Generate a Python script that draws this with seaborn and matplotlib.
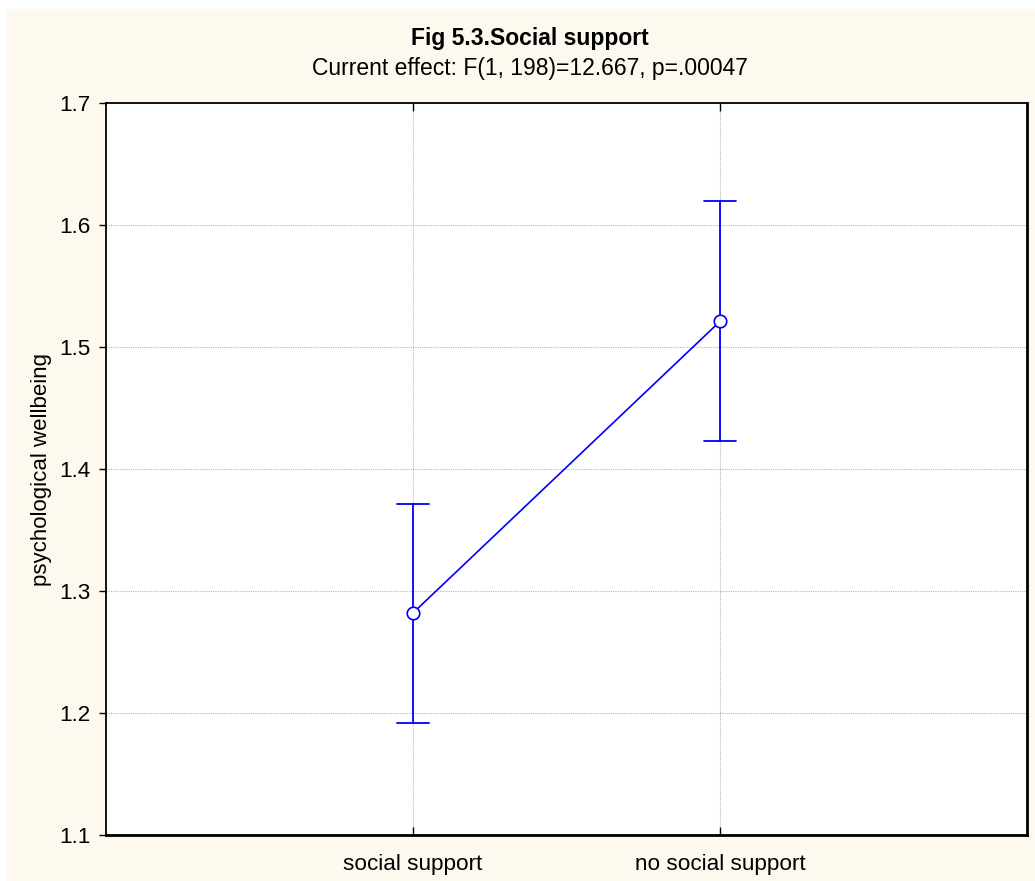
import matplotlib
matplotlib.use("Agg")
import matplotlib.pyplot as plt
import seaborn as sns
import pandas as pd
from matplotlib.patches import Rectangle

categories = ["social support", "no social support"]
means = [1.282, 1.521]
ci_low = [1.192, 1.423]
ci_high = [1.371, 1.620]
y_ticks = [1.1, 1.2, 1.3, 1.4, 1.5, 1.6, 1.7]

title = "Fig 5.3.Social support"
subtitle = "Current effect: F(1, 198)=12.667, p=.00047"
ylabel = "psychological wellbeing"

sns.set_theme(style="white")
plt.rcParams["font.family"] = ["Liberation Sans", "DejaVu Sans"]
plt.rcParams["text.color"] = "black"
plt.rcParams["axes.labelcolor"] = "black"
plt.rcParams["xtick.color"] = "black"
plt.rcParams["ytick.color"] = "black"

rows = []
for c, lo, m, hi in zip(categories, ci_low, means, ci_high):
    for v in (lo, m, hi):
        rows.append({"group": c, "value": v})
df = pd.DataFrame(rows)

fig = plt.figure(figsize=(10.35, 8.81), dpi=100, facecolor="white")
fig.patches.append(Rectangle((7 / 1035, 0), 1 - 7 / 1035, 1 - 9 / 881,
                             transform=fig.transFigure, facecolor="#FEF9EF",
                             edgecolor="none", zorder=-10))
ax = fig.add_axes([106 / 1035, 1 - 835 / 881, (1027 - 106) / 1035, (835 - 103) / 881])
ax.set_zorder(1)
ax.set_facecolor("white")

sns.pointplot(data=df, x="group", y="value", order=categories,
              estimator="median", errorbar=lambda v: (v.min(), v.max()),
              color="#0000FF", markers="o", capsize=0.105,
              markerfacecolor="white", markeredgecolor="#0000FF",
              markersize=9, markeredgewidth=1.2, linewidth=1.2,
              err_kws={"linewidth": 1.3, "zorder": 2}, ax=ax)
for ln in ax.lines:
    if ln.get_marker() == "o":
        ln.set_zorder(4)

ax.set_xlim(-1, 2)
ax.set_ylim(1.1, 1.7)
ax.set_yticks(y_ticks)
ax.set_yticklabels([f"{t:.1f}" for t in y_ticks])
ax.set_xlabel("")
ax.set_ylabel(ylabel, fontsize=16, labelpad=5)
ax.grid(True, color="#b8b8b8", linestyle=(0, (1, 1)), linewidth=0.8)
ax.set_axisbelow(True)
ax.tick_params(axis="x", direction="in", top=True, bottom=True, length=6,
               width=1, labelsize=16.2, pad=14, colors="black")
ax.tick_params(axis="y", direction="out", left=True, length=5, width=1,
               labelsize=16.2, pad=6, colors="black")
for s in ax.spines.values():
    s.set_visible(True)
    s.set_color("black")
    s.set_linewidth(1.3)
ax.spines["right"].set_linewidth(2)
ax.spines["bottom"].set_linewidth(2)

fig.text(530 / 1035, 1 - 39 / 881, title, ha="center", va="center", fontsize=16.5,
         fontweight="bold")
fig.text(530 / 1035, 1 - 68 / 881, subtitle, ha="center", va="center", fontsize=16.5)

fig.savefig("out.png", dpi=100, facecolor=fig.get_facecolor())
